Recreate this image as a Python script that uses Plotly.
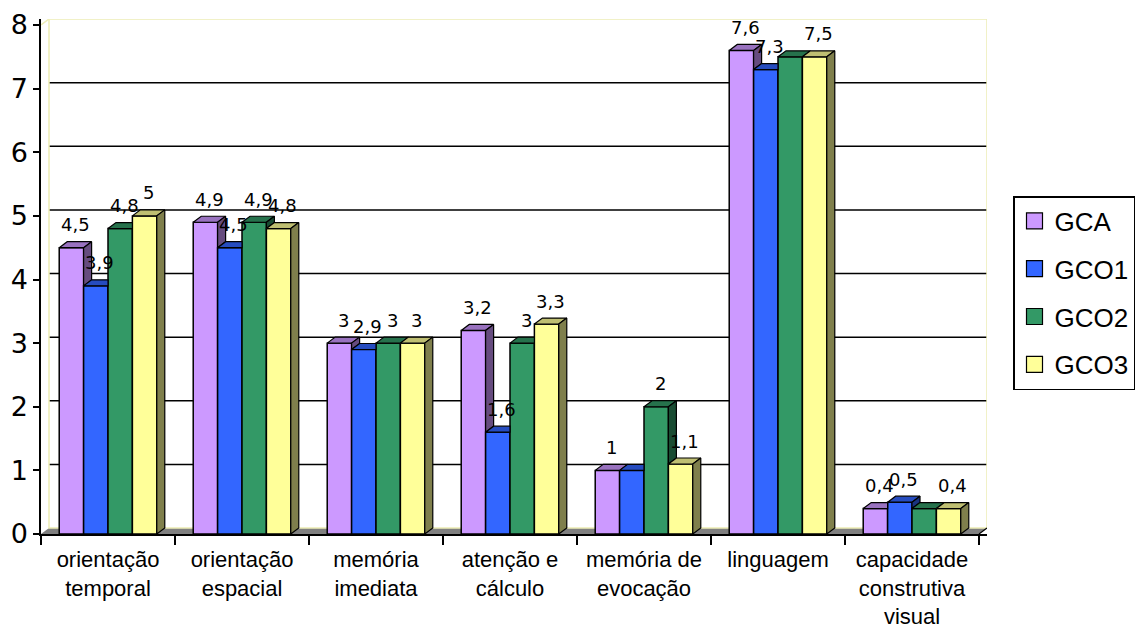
import plotly.graph_objects as go

# ---------------- data ----------------
categories = ["orientação<br>temporal", "orientação<br>espacial", "memória<br>imediata",
              "atenção e<br>cálculo", "memória de<br>evocação", "linguagem",
              "capacidade<br>construtiva<br>visual"]
series_names = ["GCA", "GCO1", "GCO2", "GCO3"]
gca = [4.5, 4.9, 3.0, 3.2, 1.0, 7.6, 0.4]
gco1 = [3.9, 4.5, 2.9, 1.6, 1.0, 7.3, 0.5]
gco2 = [4.8, 4.9, 3.0, 3.0, 2.0, 7.5, 0.4]
gco3 = [5.0, 4.8, 3.0, 3.3, 1.1, 7.5, 0.4]
y_ticks = [0, 1, 2, 3, 4, 5, 6, 7, 8]

series_values = [gca, gco1, gco2, gco3]
front_colors = ["#CC99FF", "#3366FF", "#339966", "#FFFF99"]
# labels that are hidden behind an identical neighbouring label in the original
hidden_labels = {(1, 4), (2, 5), (2, 6)}

# ---------------- geometry ----------------
W, H = 1135, 629
ML, MR, MT, MB = 41, 148, 19, 95
PW, PH = W - ML - MR, H - MT - MB
DX_PX, DY_PX = 8, 6
n_cat = len(categories)
y_max = y_ticks[-1]
dx_u = DX_PX * n_cat / (PW - DX_PX)
dy_u = DY_PX * y_max / (PH - DY_PX)
BAR_W = 0.182
slope = dy_u / dx_u

TEXT_FONT = "Liberation Sans, Arial, sans-serif"


def shade(hex_color, f):
    h = hex_color.lstrip("#")
    r, g, b = (int(h[i:i + 2], 16) for i in (0, 2, 4))
    return "#%02X%02X%02X" % (int(r * f), int(g * f), int(b * f))


fig = go.Figure()

centers = []
for j, (name, vals) in enumerate(zip(series_names, series_values)):
    xs = [i + (j - 1.5) * BAR_W for i in range(n_cat)]
    centers.append(xs)
    fig.add_trace(go.Bar(
        x=xs, y=vals, width=BAR_W, name=name, showlegend=False,
        marker=dict(color=front_colors[j], line=dict(color="black", width=1.5)),
        hoverinfo="skip"))

# 3D top and side faces (visible parts only)
for j, vals in enumerate(series_values):
    tx, ty, sx, sy = [], [], [], []
    for i in range(n_cat):
        v = vals[i]
        x0 = centers[j][i] - BAR_W / 2
        x1 = x0 + BAR_W
        nxt = series_values[j + 1][i] if j + 1 < len(series_values) else None
        # top face
        nc = v if nxt is None else min(max(nxt, v), v + dy_u)
        tx += [x0, x1, x1, x1 + (v + dy_u - nc) / slope, x0 + dx_u, x0, None]
        ty += [v, v, nc, v + dy_u, v + dy_u, v, None]
        # side face
        if nxt is None or nxt < v:
            lo = 0 if nxt is None else nxt
            sx += [x1, x1 + dx_u, x1 + dx_u, x1, x1, None]
            sy += [lo, lo + dy_u, v + dy_u, v, lo, None]
    fig.add_trace(go.Scatter(x=tx, y=ty, mode="lines", fill="toself",
                             fillcolor=shade(front_colors[j], 0.75),
                             line=dict(color="black", width=1.2),
                             hoverinfo="skip", showlegend=False))
    if sx:
        fig.add_trace(go.Scatter(x=sx, y=sy, mode="lines", fill="toself",
                                 fillcolor=shade(front_colors[j], 0.5),
                                 line=dict(color="black", width=1.2),
                                 hoverinfo="skip", showlegend=False))

# legend entries
for j, name in enumerate(series_names):
    fig.add_trace(go.Scatter(
        x=[None], y=[None], mode="markers", name=name, legendgroup=name,
        marker=dict(symbol="square", size=16, color=front_colors[j],
                    line=dict(color="black", width=1.2))))

# data labels
label_font = dict(family="DejaVu Sans", size=18, color="black")
for j, vals in enumerate(series_values):
    for i, v in enumerate(vals):
        if (j, i) in hidden_labels:
            continue
        fig.add_annotation(x=centers[j][i], y=v, text=f"{v:g}".replace(".", ","),
                           showarrow=False, xshift=4, yshift=23, font=label_font)

# walls, floor and back-wall gridlines
xl, xr = -0.5, n_cat - 0.5
wall_col = "#EDEDB5"
shapes = []
shapes.append(dict(type="path", layer="below",
                   path=f"M{xl},0 L{xr},0 L{xr + dx_u},{dy_u} L{xl + dx_u},{dy_u} Z",
                   fillcolor="#808080", line=dict(width=0)))
for k in y_ticks[1:-1]:
    shapes.append(dict(type="line", layer="below", x0=xl + dx_u, x1=xr + dx_u,
                       y0=k + dy_u, y1=k + dy_u, line=dict(color="black", width=1.5)))
shapes.append(dict(type="rect", layer="below", x0=xl + dx_u, x1=xr + dx_u,
                   y0=dy_u, y1=y_max + dy_u, line=dict(color=wall_col, width=1.5)))
shapes.append(dict(type="line", layer="below", x0=xl, x1=xl + dx_u,
                   y0=y_max, y1=y_max + dy_u, line=dict(color=wall_col, width=1.5)))
shapes.append(dict(type="line", layer="below", x0=xr, x1=xr + dx_u,
                   y0=0, y1=dy_u, line=dict(color="black", width=1.2)))

fig.update_layout(
    width=W, height=H,
    margin=dict(l=ML, r=MR, t=MT, b=MB, pad=0, autoexpand=False),
    paper_bgcolor="white", plot_bgcolor="white",
    barmode="overlay",
    shapes=shapes,
    showlegend=True,
    legend=dict(x=(1013 - ML) / PW, y=(H - MB - 196) / PH, xanchor="left", yanchor="top",
                bgcolor="white", bordercolor="black", borderwidth=1.5,
                font=dict(family=TEXT_FONT, size=26, color="black"),
                tracegroupgap=11, itemsizing="trace"),
    xaxis=dict(range=[xl, xr + dx_u], tickmode="array",
               tickvals=list(range(n_cat)), ticktext=categories, ticks="",
               ticklabelstandoff=5,
               tickfont=dict(family=TEXT_FONT, size=22, color="black"),
               showline=True, linecolor="black", linewidth=1.5,
               showgrid=False, zeroline=False,
               minor=dict(tickmode="array", tickvals=[i - 0.5 for i in range(n_cat + 1)],
                          ticks="outside", ticklen=9, tickwidth=1.5, tickcolor="black"),
               fixedrange=True),
    yaxis=dict(range=[0, y_max + dy_u], tickmode="array", tickvals=y_ticks,
               ticks="outside", ticklen=6, tickwidth=1.5, tickcolor="black",
               tickfont=dict(family="DejaVu Sans", size=27, color="black"),
               showline=True, linecolor="black", linewidth=1.5,
               showgrid=False, zeroline=False, fixedrange=True),
)

fig.write_html("out.html")
